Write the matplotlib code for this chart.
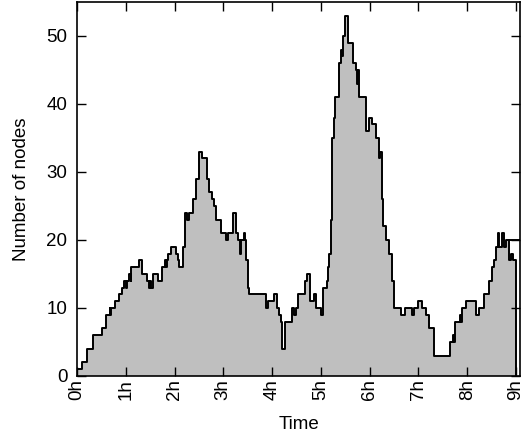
import matplotlib
matplotlib.use("Agg")
import matplotlib.pyplot as plt
import numpy as np

plt.rcParams['font.family'] = ['Liberation Sans', 'DejaVu Sans']

# step start times (minutes since 0h) and node counts
t_min = [0, 6, 12, 20, 31, 36, 40, 41, 42, 47, 52, 55, 58, 60, 61, 64, 66, 67,
         76, 80, 86, 88, 90, 91, 94, 100, 104, 108, 110, 111, 112, 116, 122, 124,
         126, 130, 131, 133, 135, 138, 143, 147, 150, 154, 160, 163, 166, 168, 171,
         177, 183, 186, 192, 195, 196, 198, 200, 202, 205, 207, 208, 210, 212,
         233, 235, 242, 246, 249, 251, 252, 256, 265, 267, 269, 272, 280, 283,
         287, 292, 294, 300, 303, 307, 309, 310, 312, 314, 316, 318, 322, 325,
         326, 327, 330, 334, 339, 343, 344, 346, 347, 355, 359, 363, 368, 371,
         372, 373, 375, 377, 380, 384, 387, 388, 390, 398, 403, 412, 415, 420,
         424, 429, 433, 439, 459, 462, 464, 465, 471, 472, 474, 478, 491, 495,
         501, 507, 511, 513, 515, 518, 519, 523, 525, 528, 532, 534, 536, 540]
nodes = [1, 2, 4, 6, 7, 9, 10, 9, 10, 11, 12, 13, 14, 13, 14, 15, 14, 16,
         17, 15, 14, 13, 14, 13, 15, 14, 16, 17, 16, 17, 18, 19, 18, 17,
         16, 18, 19, 24, 23, 24, 26, 29, 33, 32, 29, 27, 26, 25, 23,
         21, 20, 21, 24, 22, 21, 20, 18, 20, 21, 20, 17, 13, 12,
         10, 11, 12, 10, 9, 8, 4, 8, 10, 9, 10, 12, 14, 15,
         11, 12, 10, 9, 13, 14, 16, 18, 23, 35, 38, 41, 46, 48,
         47, 50, 53, 49, 46, 45, 43, 45, 41, 36, 38, 37, 35, 33,
         32, 33, 26, 22, 20, 18, 15, 14, 10, 9, 10, 9, 10, 11,
         10, 9, 7, 3, 5, 6, 5, 8, 9, 8, 10, 11, 9, 10,
         12, 14, 16, 17, 19, 21, 19, 21, 19, 20, 17, 18, 17, 0]
# short trailing segment at the end of the trace
tail_min = [532, 545]
tail_nodes = [20, 20]

x_ticks_h = list(range(10))
x_tick_labels = [f"{h}h" for h in x_ticks_h]
y_ticks = [0, 10, 20, 30, 40, 50]

t_h = np.array(t_min) / 60.0
v = np.array(nodes)

FS = 13.5

fig = plt.figure(figsize=(5.22, 4.41), dpi=100)
ax = fig.add_axes([0.1475, 0.1474, 0.9962 - 0.1475, 0.9955 - 0.1474])

ax.fill_between(t_h, v, step='post', color='#bfbfbf', linewidth=0)
ax.step(t_h, v, where='post', color='black', linewidth=1.4)
ax.plot(np.array(tail_min) / 60.0, tail_nodes, color='black', linewidth=1.4)

ax.set_xlim(0, 545 / 60.0)
ax.set_ylim(0, 55)
ax.set_xticks(x_ticks_h)
ax.set_xticklabels(x_tick_labels, rotation=90, fontsize=FS)
ax.set_yticks(y_ticks)
ax.set_yticklabels([str(y) for y in y_ticks], fontsize=FS)
ax.tick_params(direction='in', length=6.5, width=1.0, top=True, right=True)
ax.tick_params(axis='x', pad=2.5)
ax.tick_params(axis='y', pad=7)
for s in ax.spines.values():
    s.set_linewidth(1.2)
ax.set_xlabel("Time", fontsize=FS, labelpad=11)
ax.set_ylabel("Number of nodes", fontsize=FS, labelpad=12)

fig.savefig("out.png", dpi=100)
